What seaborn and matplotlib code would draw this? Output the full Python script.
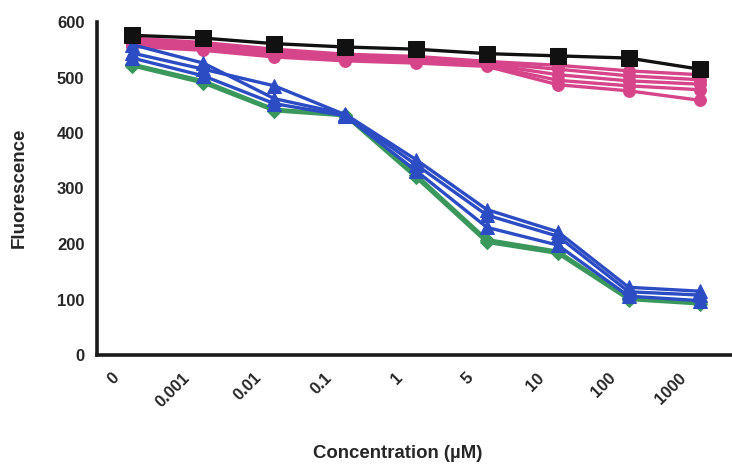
import matplotlib
matplotlib.use("Agg")
import matplotlib.pyplot as plt
import matplotlib.transforms as mtransforms
import seaborn as sns
import pandas as pd
import numpy as np

categories = ["0", "0.001", "0.01", "0.1", "1", "5", "10", "100", "1000"]

pink_1 = [571, 563, 551, 542, 538, 529, 522, 512, 505]
pink_2 = [567, 559, 547, 539, 534, 526, 515, 503, 496]
pink_3 = [563, 555, 543, 536, 531, 524, 505, 494, 488]
pink_4 = [559, 552, 540, 533, 529, 522, 495, 485, 478]
pink_5 = [556, 549, 537, 530, 526, 520, 487, 476, 459]

green_1 = [521, 490, 440, 431, 320, 203, 183, 100, 92]
green_2 = [524, 494, 443, 433, 325, 208, 187, 103, 95]

blue_1 = [559, 526, 462, 434, 352, 262, 222, 122, 115]
blue_2 = [544, 515, 485, 433, 343, 252, 214, 114, 108]
blue_3 = [535, 503, 453, 431, 332, 230, 198, 106, 98]

black_1 = [576, 571, 561, 555, 551, 543, 539, 535, 515]

sns.set_theme(style="white")
plt.rcParams["font.family"] = ["Liberation Sans", "DejaVu Sans"]

W, H = 732, 468
fig = plt.figure(figsize=(W / 100, H / 100), dpi=100)
ax = fig.add_axes([97 / W, (H - 355) / H, 638 / W, 333 / H])

idx = list(range(len(categories)))

PINK = "#D6448A"
GREEN = "#3A985C"
BLUE = "#2C4CC4"
BLACK = "#111111"

series = [
    (green_1, GREEN, "D", 7.5),
    (green_2, GREEN, "D", 7.5),
    (pink_1, PINK, "o", 8.5),
    (pink_2, PINK, "o", 8.5),
    (pink_3, PINK, "o", 8.5),
    (pink_4, PINK, "o", 8.5),
    (pink_5, PINK, "o", 8.5),
    (blue_1, BLUE, "^", 9.5),
    (blue_2, BLUE, "^", 9.5),
    (blue_3, BLUE, "^", 9.5),
    (black_1, BLACK, "s", 12),
]

for vals, col, mk, ms in series:
    df = pd.DataFrame({"x": idx, "y": vals})
    sns.lineplot(data=df, x="x", y="y", ax=ax, color=col, marker=mk,
                 markersize=ms, markeredgecolor=col, linewidth=2.4,
                 sort=False, legend=False)

ax.set_xlim(-0.5, len(categories) - 0.5)
ax.set_ylim(0, 600)
ax.set_yticks([0, 100, 200, 300, 400, 500, 600])
ax.set_yticklabels(["0", "100", "200", "300", "400", "500", "600"],
                   fontweight="bold", fontsize=12)

# category labels at centers, tick marks at boundaries
ax.set_xticks(idx)
ax.set_xticklabels(categories, rotation=45, ha="right",
                   rotation_mode="anchor", fontweight="bold", fontsize=12)
ax.tick_params(axis="x", which="major", length=0, pad=11)
ax.set_xticks(np.arange(-0.5, len(categories), 1.0), minor=True)
ax.tick_params(axis="x", which="minor", length=6, width=2.2, color="#1a1a1a",
               direction="out")
ax.tick_params(axis="y", which="major", length=6, width=2.2, color="#1a1a1a",
               direction="out", pad=3)

offset = mtransforms.ScaledTranslation(-21 / 100, 0, fig.dpi_scale_trans)
for lab in ax.get_xticklabels():
    lab.set_transform(lab.get_transform() + offset)

for s in ["top", "right"]:
    ax.spines[s].set_visible(False)
for s in ["left", "bottom"]:
    ax.spines[s].set_linewidth(2.6)
    ax.spines[s].set_color("#1a1a1a")

ax.set_xlabel("")
ax.set_ylabel("")
fig.text(19 / W, 1 - 188 / H, "Fluorescence", rotation=90, ha="center",
         va="center", fontweight="bold", fontsize=13.5)
fig.text(398 / W, 1 - 454 / H, "Concentration (µM)", ha="center",
         va="center", fontweight="bold", fontsize=13.4)

fig.savefig("out.png", dpi=100)
